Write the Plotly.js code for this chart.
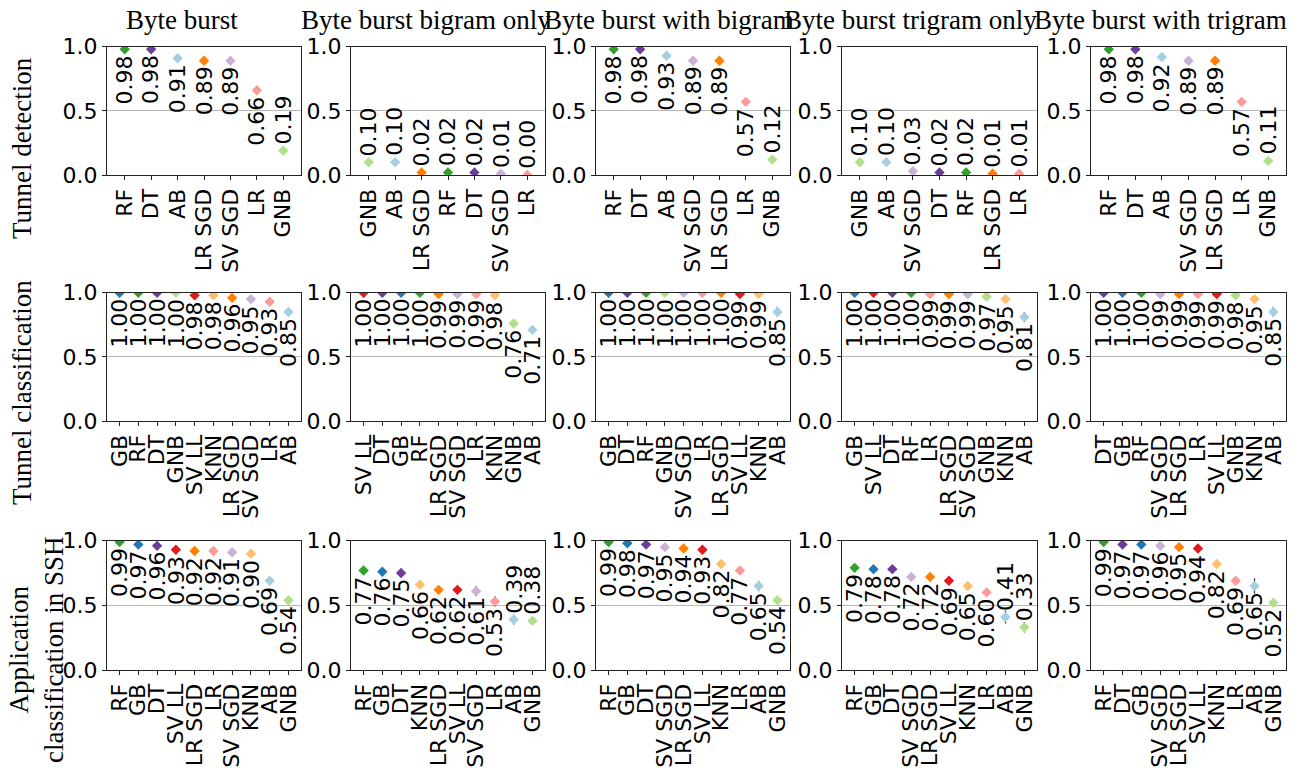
<!DOCTYPE html>
<html><head><meta charset="utf-8">
<script src="https://cdn.plot.ly/plotly-3.0.1.min.js"></script>
<style>html,body{margin:0;padding:0;background:#fff}#chart{width:1302px;height:768px}</style>
</head><body><div id="chart"></div>
<script>
const columnTitles = ["Byte burst", "Byte burst bigram only", "Byte burst with bigram", "Byte burst trigram only", "Byte burst with trigram"];
const rowTitles = ["Tunnel detection", "Tunnel classification", "Application<br>classification in SSH"];

const classifierColors = {
  "AB": "#a6cee3", "GB": "#1f78b4", "GNB": "#b2df8a", "RF": "#33a02c", "LR": "#fb9a99",
  "SV LL": "#e31a1c", "KNN": "#fdbf6f", "LR SGD": "#ff7f00", "SV SGD": "#cab2d6", "DT": "#6a3d9a"
};

// Row 1: Tunnel detection
const r1c1Cats = ["RF", "DT", "AB", "LR SGD", "SV SGD", "LR", "GNB"];
const r1c1Vals = [0.98, 0.98, 0.91, 0.89, 0.89, 0.66, 0.19];
const r1c1Errs = [0.005, 0.005, 0.03, 0.005, 0.005, 0.01, 0.01];
const r1c2Cats = ["GNB", "AB", "LR SGD", "RF", "DT", "SV SGD", "LR"];
const r1c2Vals = [0.10, 0.10, 0.02, 0.02, 0.02, 0.01, 0.00];
const r1c2Errs = [0.005, 0.005, 0.005, 0.005, 0.005, 0.005, 0.003];
const r1c3Cats = ["RF", "DT", "AB", "SV SGD", "LR SGD", "LR", "GNB"];
const r1c3Vals = [0.98, 0.98, 0.93, 0.89, 0.89, 0.57, 0.12];
const r1c3Errs = [0.005, 0.005, 0.03, 0.005, 0.005, 0.01, 0.01];
const r1c4Cats = ["GNB", "AB", "SV SGD", "DT", "RF", "LR SGD", "LR"];
const r1c4Vals = [0.10, 0.10, 0.03, 0.02, 0.02, 0.01, 0.01];
const r1c4Errs = [0.005, 0.005, 0.005, 0.005, 0.005, 0.005, 0.003];
const r1c5Cats = ["RF", "DT", "AB", "SV SGD", "LR SGD", "LR", "GNB"];
const r1c5Vals = [0.98, 0.98, 0.92, 0.89, 0.89, 0.57, 0.11];
const r1c5Errs = [0.005, 0.005, 0.03, 0.005, 0.005, 0.01, 0.01];

// Row 2: Tunnel classification
const r2c1Cats = ["GB", "RF", "DT", "GNB", "SV LL", "KNN", "LR SGD", "SV SGD", "LR", "AB"];
const r2c1Vals = [1.00, 1.00, 1.00, 1.00, 0.98, 0.98, 0.96, 0.95, 0.93, 0.85];
const r2c1Errs = [0.002, 0.002, 0.002, 0.002, 0.005, 0.005, 0.005, 0.005, 0.005, 0.03];
const r2c2Cats = ["SV LL", "DT", "GB", "RF", "LR SGD", "SV SGD", "LR", "KNN", "GNB", "AB"];
const r2c2Vals = [1.00, 1.00, 1.00, 1.00, 0.99, 0.99, 0.99, 0.98, 0.76, 0.71];
const r2c2Errs = [0.002, 0.002, 0.002, 0.002, 0.005, 0.005, 0.005, 0.005, 0.01, 0.01];
const r2c3Cats = ["GB", "DT", "RF", "GNB", "SV SGD", "LR", "LR SGD", "SV LL", "KNN", "AB"];
const r2c3Vals = [1.00, 1.00, 1.00, 1.00, 1.00, 1.00, 1.00, 0.99, 0.99, 0.85];
const r2c3Errs = [0.002, 0.002, 0.002, 0.002, 0.002, 0.002, 0.002, 0.005, 0.005, 0.04];
const r2c4Cats = ["GB", "SV LL", "DT", "RF", "LR", "LR SGD", "SV SGD", "GNB", "KNN", "AB"];
const r2c4Vals = [1.00, 1.00, 1.00, 1.00, 0.99, 0.99, 0.99, 0.97, 0.95, 0.81];
const r2c4Errs = [0.002, 0.002, 0.002, 0.002, 0.005, 0.005, 0.005, 0.005, 0.005, 0.04];
const r2c5Cats = ["DT", "GB", "RF", "SV SGD", "LR SGD", "LR", "SV LL", "GNB", "KNN", "AB"];
const r2c5Vals = [1.00, 1.00, 1.00, 0.99, 0.99, 0.99, 0.99, 0.98, 0.95, 0.85];
const r2c5Errs = [0.002, 0.002, 0.002, 0.005, 0.005, 0.005, 0.005, 0.005, 0.005, 0.04];

// Row 3: Application classification in SSH
const r3c1Cats = ["RF", "GB", "DT", "SV LL", "LR SGD", "LR", "SV SGD", "KNN", "AB", "GNB"];
const r3c1Vals = [0.99, 0.97, 0.96, 0.93, 0.92, 0.92, 0.91, 0.90, 0.69, 0.54];
const r3c1Errs = [0.005, 0.005, 0.005, 0.005, 0.005, 0.005, 0.005, 0.005, 0.03, 0.01];
const r3c2Cats = ["RF", "GB", "DT", "KNN", "LR SGD", "SV LL", "SV SGD", "LR", "AB", "GNB"];
const r3c2Vals = [0.77, 0.76, 0.75, 0.66, 0.62, 0.62, 0.61, 0.53, 0.39, 0.38];
const r3c2Errs = [0.01, 0.015, 0.02, 0.02, 0.015, 0.03, 0.04, 0.04, 0.04, 0.03];
const r3c3Cats = ["RF", "GB", "DT", "SV SGD", "LR SGD", "SV LL", "KNN", "LR", "AB", "GNB"];
const r3c3Vals = [0.99, 0.98, 0.97, 0.95, 0.94, 0.93, 0.82, 0.77, 0.65, 0.54];
const r3c3Errs = [0.005, 0.005, 0.005, 0.005, 0.005, 0.01, 0.01, 0.03, 0.04, 0.02];
const r3c4Cats = ["RF", "GB", "DT", "SV SGD", "LR SGD", "SV LL", "KNN", "LR", "AB", "GNB"];
const r3c4Vals = [0.79, 0.78, 0.78, 0.72, 0.72, 0.69, 0.65, 0.60, 0.41, 0.33];
const r3c4Errs = [0.01, 0.01, 0.01, 0.01, 0.01, 0.01, 0.01, 0.02, 0.05, 0.04];
const r3c5Cats = ["RF", "DT", "GB", "SV SGD", "LR SGD", "SV LL", "KNN", "LR", "AB", "GNB"];
const r3c5Vals = [0.99, 0.97, 0.97, 0.96, 0.95, 0.94, 0.82, 0.69, 0.65, 0.52];
const r3c5Errs = [0.005, 0.005, 0.005, 0.005, 0.005, 0.01, 0.01, 0.01, 0.06, 0.01];

const panels = [
  [r1c1Cats, r1c1Vals, r1c1Errs], [r1c2Cats, r1c2Vals, r1c2Errs], [r1c3Cats, r1c3Vals, r1c3Errs], [r1c4Cats, r1c4Vals, r1c4Errs], [r1c5Cats, r1c5Vals, r1c5Errs],
  [r2c1Cats, r2c1Vals, r2c1Errs], [r2c2Cats, r2c2Vals, r2c2Errs], [r2c3Cats, r2c3Vals, r2c3Errs], [r2c4Cats, r2c4Vals, r2c4Errs], [r2c5Cats, r2c5Vals, r2c5Errs],
  [r3c1Cats, r3c1Vals, r3c1Errs], [r3c2Cats, r3c2Vals, r3c2Errs], [r3c3Cats, r3c3Vals, r3c3Errs], [r3c4Cats, r3c4Vals, r3c4Errs], [r3c5Cats, r3c5Vals, r3c5Errs]
];

const W = 1302, H = 768;
const colPx = [[107, 301], [351, 545], [596, 790], [842, 1037], [1091, 1286]];
const rowPx = [[46.7, 175], [292.7, 421], [540.7, 670]];
const titleCenterPx = [182, 426, 669, 910, 1160];
const tickFont = {family: "DejaVu Sans", size: 22, color: "#000"};
const serifFont = {family: "Liberation Serif", size: 27, color: "#000"};

const traces = [];
const layout = {
  width: W, height: H, margin: {l: 0, r: 0, t: 0, b: 0},
  paper_bgcolor: "#fff", plot_bgcolor: "#fff", showlegend: false,
  annotations: []
};

panels.forEach((p, idx) => {
  const [cats, vals, errs] = p;
  const r = Math.floor(idx / 5), c = idx % 5, k = idx + 1;
  const xn = k === 1 ? "x" : "x" + k, yn = k === 1 ? "y" : "y" + k;
  const xk = k === 1 ? "xaxis" : "xaxis" + k, yk = k === 1 ? "yaxis" : "yaxis" + k;
  const n = cats.length;
  layout[xk] = {
    domain: [colPx[c][0] / W, colPx[c][1] / W], anchor: yn, type: "category",
    range: [-0.67, n - 0.33], tickmode: "array", tickvals: cats, ticktext: cats,
    tickangle: -90, ticks: "outside", ticklen: 4, tickcolor: "#222", tickwidth: 1,
    showline: true, mirror: true, linecolor: "#222", linewidth: 1,
    showgrid: false, zeroline: false, tickfont: tickFont, fixedrange: true
  };
  layout[yk] = {
    domain: [1 - rowPx[r][1] / H, 1 - rowPx[r][0] / H], anchor: xn,
    range: [0, 1], tickmode: "array", tickvals: [0, 0.5, 1], ticktext: ["0.0", "0.5", "1.0"],
    ticks: "outside", ticklen: 4, tickcolor: "#222", tickwidth: 1,
    showline: true, mirror: true, linecolor: "#222", linewidth: 1,
    showgrid: true, gridcolor: "#b8b8b8", gridwidth: 1, zeroline: false,
    tickfont: tickFont, fixedrange: true
  };
  traces.push({
    type: "scatter", mode: "markers", x: cats, y: vals, xaxis: xn, yaxis: yn,
    marker: {symbol: "diamond", size: 8, color: cats.map(cn => classifierColors[cn]), line: {width: 0}},
    error_y: {type: "data", array: errs, visible: true, color: "#333", thickness: 1.2, width: 0},
    hoverinfo: "skip", showlegend: false
  });
  vals.forEach((v, i) => {
    const below = v >= 0.5;
    layout.annotations.push({
      xref: xn, yref: yn, x: i, y: v, text: v.toFixed(2), showarrow: false,
      textangle: -90, xanchor: "center", yanchor: below ? "top" : "bottom",
      yshift: below ? -4 : 4, font: tickFont
    });
  });
});

columnTitles.forEach((t, c) => {
  layout.annotations.push({
    xref: "paper", yref: "paper", x: titleCenterPx[c] / W, y: 1 - 20 / H,
    text: t, showarrow: false, xanchor: "center", yanchor: "middle", font: serifFont
  });
});
const rowTitlePos = [[22, 148], [22, 393], [36, 650]];
rowTitles.forEach((t, r) => {
  layout.annotations.push({
    xref: "paper", yref: "paper", x: rowTitlePos[r][0] / W, y: 1 - rowTitlePos[r][1] / H,
    text: t, showarrow: false, textangle: -90, xanchor: "center", yanchor: "middle",
    align: "center", font: serifFont
  });
});

Plotly.newPlot("chart", traces, layout, {staticPlot: true, displayModeBar: false});
</script></body></html>
